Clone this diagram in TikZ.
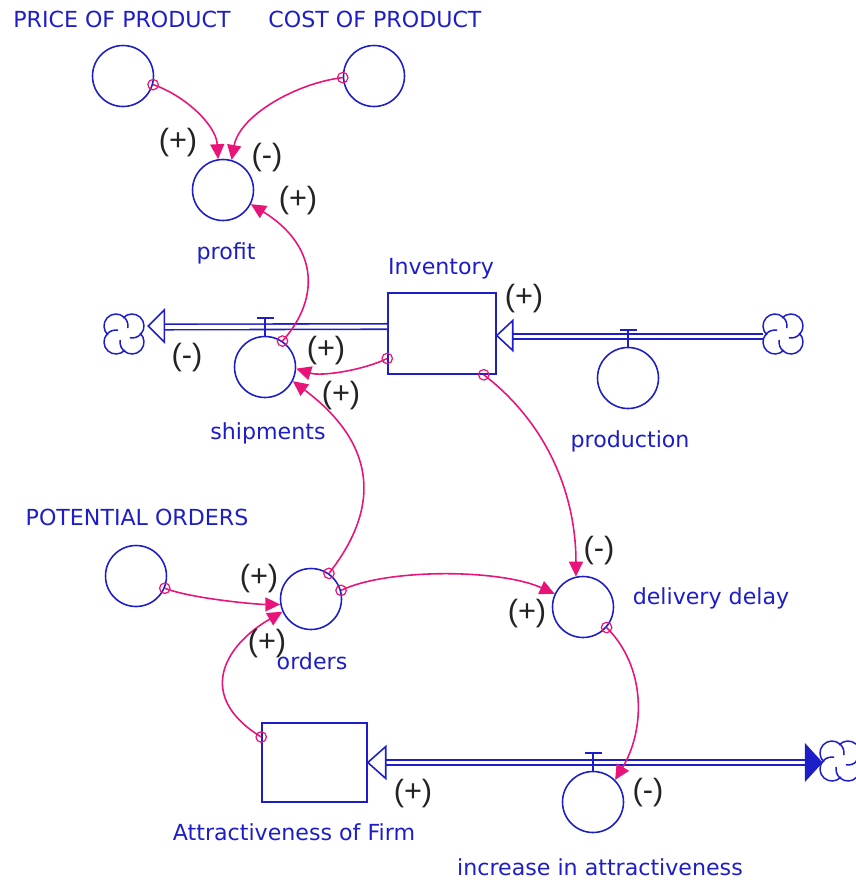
\documentclass[tikz,border=0pt]{standalone}
\usepackage{fontspec}
\setmainfont{DejaVu Sans}
\newfontfamily\polfont{Liberation Sans}
\usetikzlibrary{arrows.meta,calc}
\definecolor{vblue}{RGB}{30,30,200}
\definecolor{linkpink}{RGB}{232,20,120}
\definecolor{polgray}{RGB}{35,35,35}

% four-lobed source/sink cloud with inner swirls
\tikzset{
  cloudline/.style={draw=vblue,line width=0.85pt},
  cloud/.pic={
    \foreach \cx/\cy/\a/\b in {8/8/-48/190, -8/8/42/280, -8/-8/132/370, 8/-8/222/460}{
      \draw[cloudline] (\cx,\cy) ++(\a:12) arc[start angle=\a, end angle=\b, radius=12];
    }
  }
}

\begin{document}
\begin{tikzpicture}[x=0.02cm,y=-0.02cm,
  aux/.style={circle,draw=vblue,line width=0.9pt,minimum size=1.22cm,inner sep=0pt},
  stock/.style={rectangle,draw=vblue,line width=0.9pt,inner sep=0pt},
  cloudbox/.style={circle,minimum size=0.8cm,inner sep=0pt},
  lbl/.style={text=vblue,font=\fontsize{12.6}{15}\selectfont,inner sep=0pt,anchor=base},
  pol/.style={text=polgray,font=\polfont\fontsize{17.5}{20}\selectfont,inner sep=0pt},
  link/.style={draw=linkpink,line width=0.9pt,-{Triangle[length=8.5pt,width=8pt]}},
  tailmark/.style={circle,draw=linkpink,line width=0.7pt,minimum size=0.21cm,inner sep=0pt},
  pipe/.style={draw=vblue,line width=0.9pt,double=white,double distance=2.2pt},
  openhead/.style={draw=vblue,line width=0.9pt,fill=white,line join=miter},
  solidhead/.style={draw=vblue,fill=vblue,line width=0.9pt,line join=miter},
  valve/.style={draw=vblue,line width=0.9pt}
]
\useasboundingbox (0,0) rectangle (856,880);

% auxiliaries (converters)
\node[aux] (price)     at (123,76)  {};
\node[aux] (cost)      at (374,76)  {};
\node[aux] (profit)    at (223,190) {};
\node[aux] (ship)      at (265,367) {};
\node[aux] (prod)      at (628,378) {};
\node[aux] (potential) at (136,576) {};
\node[aux] (orders)    at (311,599) {};
\node[aux] (delay)     at (583,607) {};
\node[aux] (incr)      at (593,802) {};

% stocks
\node[stock,minimum width=2.16cm,minimum height=1.62cm] (inv)  at (442,333.5) {};
\node[stock,minimum width=2.1cm, minimum height=1.58cm] (attr) at (314.5,762.5) {};

% clouds
\node[cloudbox] (cloudL) at (124,334) {}; \pic at (cloudL) {cloud};
\node[cloudbox] (cloudR) at (783,334) {}; \pic at (cloudR) {cloud};
\node[cloudbox] (cloudB) at (840,761) {}; \pic at (cloudB) {cloud};

% flows: shipments (Inventory -> cloud)
\draw[pipe] ($(inv.west)+(0,-7)$) -- ($(cloudL.east)+(20,-7)$);
\draw[openhead] ($(cloudL.east)+(4,-8)$) -- ++(16,-16) -- ++(0,32) -- cycle;
% production (cloud -> Inventory)
\draw[pipe] ($(cloudR.west)+(0,2.5)$) -- ($(inv.east)+(16,3)$);
\draw[openhead] ($(inv.east)+(0,2)$) -- ++(16,-15) -- ++(0,30) -- cycle;
% increase in attractiveness (bi-flow)
\draw[pipe] ($(attr.east)+(18,0)$) -- ($(cloudB.west)+(-14,1.5)$);
\draw[openhead] (attr.east) -- ++(18,-16) -- ++(0,32) -- cycle;
\draw[solidhead] ($(cloudB.west)+(2,1.5)$) -- ++(-16,-17.5) -- ++(0,35) -- cycle;

% valves
\draw[valve] (ship.north) -- ++(0,-18) ++(-8.5,0) -- ++(17,0);
\draw[valve] (prod.north) -- ++(0,-17) ++(-8.5,0) -- ++(17,0);
\draw[valve] (incr.north) -- ++(0,-18) ++(-8.5,0) -- ++(17,0);

% causal links
\draw[link] (price.-16) node[tailmark]{} .. controls +(30,10) and +(-2,-35) .. (profit.99);
\draw[link] (cost.183) node[tailmark]{} .. controls +(-45,5) and +(8,-45) .. (profit.74);
\draw[link] (ship.56) node[tailmark]{} .. controls +(40,-45) and +(65,40) .. (profit.-27);
\draw[link] ($(inv.west)+(0,25)$) node[tailmark]{} .. controls +(-25,12) and +(25,8) .. (ship.-3);
\draw[link] (orders.55) node[tailmark]{} .. controls +(55,-70) and +(80,60) .. (ship.-27);
\draw[link] ($(inv.south east)+(-13,0)$) node[tailmark]{} .. controls +(65,50) and +(0,-80) .. (delay.103);
\draw[link] (potential.-23) node[tailmark]{} .. controls +(25,10) and +(-25,0) .. (orders.190);
\draw[link] (orders.16) node[tailmark]{} .. controls +(45,-22) and +(-55,-25) .. (delay.155);
\draw[link] (delay.-41) node[tailmark]{} .. controls +(40,40) and +(30,-50) .. (incr.45);
\draw[link] ($(attr.west)+(0,-25.5)$) node[tailmark]{} .. controls +(-65,-40) and +(-60,35) .. (orders.204);

% variable names
\node[lbl] (tprice)  at (122,27)  {PRICE OF PRODUCT};
\node[lbl] (tcost)   at (375,27)  {COST OF PRODUCT};
\node[lbl] (tprofit) at (226,259) {profit};
\node[lbl] (tinv)    at (441,274) {Inventory};
\node[lbl] (tship)   at (268,439) {shipments};
\node[lbl] (tprod)   at (630,447) {production};
\node[lbl] (tpot)    at (137,525) {POTENTIAL ORDERS};
\node[lbl] (tdelay)  at (711,604) {delivery delay};
\node[lbl] (torders) at (312,669) {orders};
\node[lbl] (tattr)   at (294,840) {Attractiveness of Firm};
\node[lbl] (tincr)   at (600,875) {increase in attractiveness};

% link polarities
\node[pol] (s1)  at (178,143) {(+)};
\node[pol] (s2)  at (267,158) {(-)};
\node[pol] (s3)  at (298,201) {(+)};
\node[pol] (s4)  at (524,299) {(+)};
\node[pol] (s5)  at (187,358) {(-)};
\node[pol] (s6)  at (326,351) {(+)};
\node[pol] (s7)  at (341,396) {(+)};
\node[pol] (s8)  at (599,551) {(-)};
\node[pol] (s9)  at (527,614) {(+)};
\node[pol] (s10) at (259,579) {(+)};
\node[pol] (s11) at (267,644) {(+)};
\node[pol] (s12) at (413,794) {(+)};
\node[pol] (s13) at (648,793) {(-)};
\end{tikzpicture}
\end{document}
